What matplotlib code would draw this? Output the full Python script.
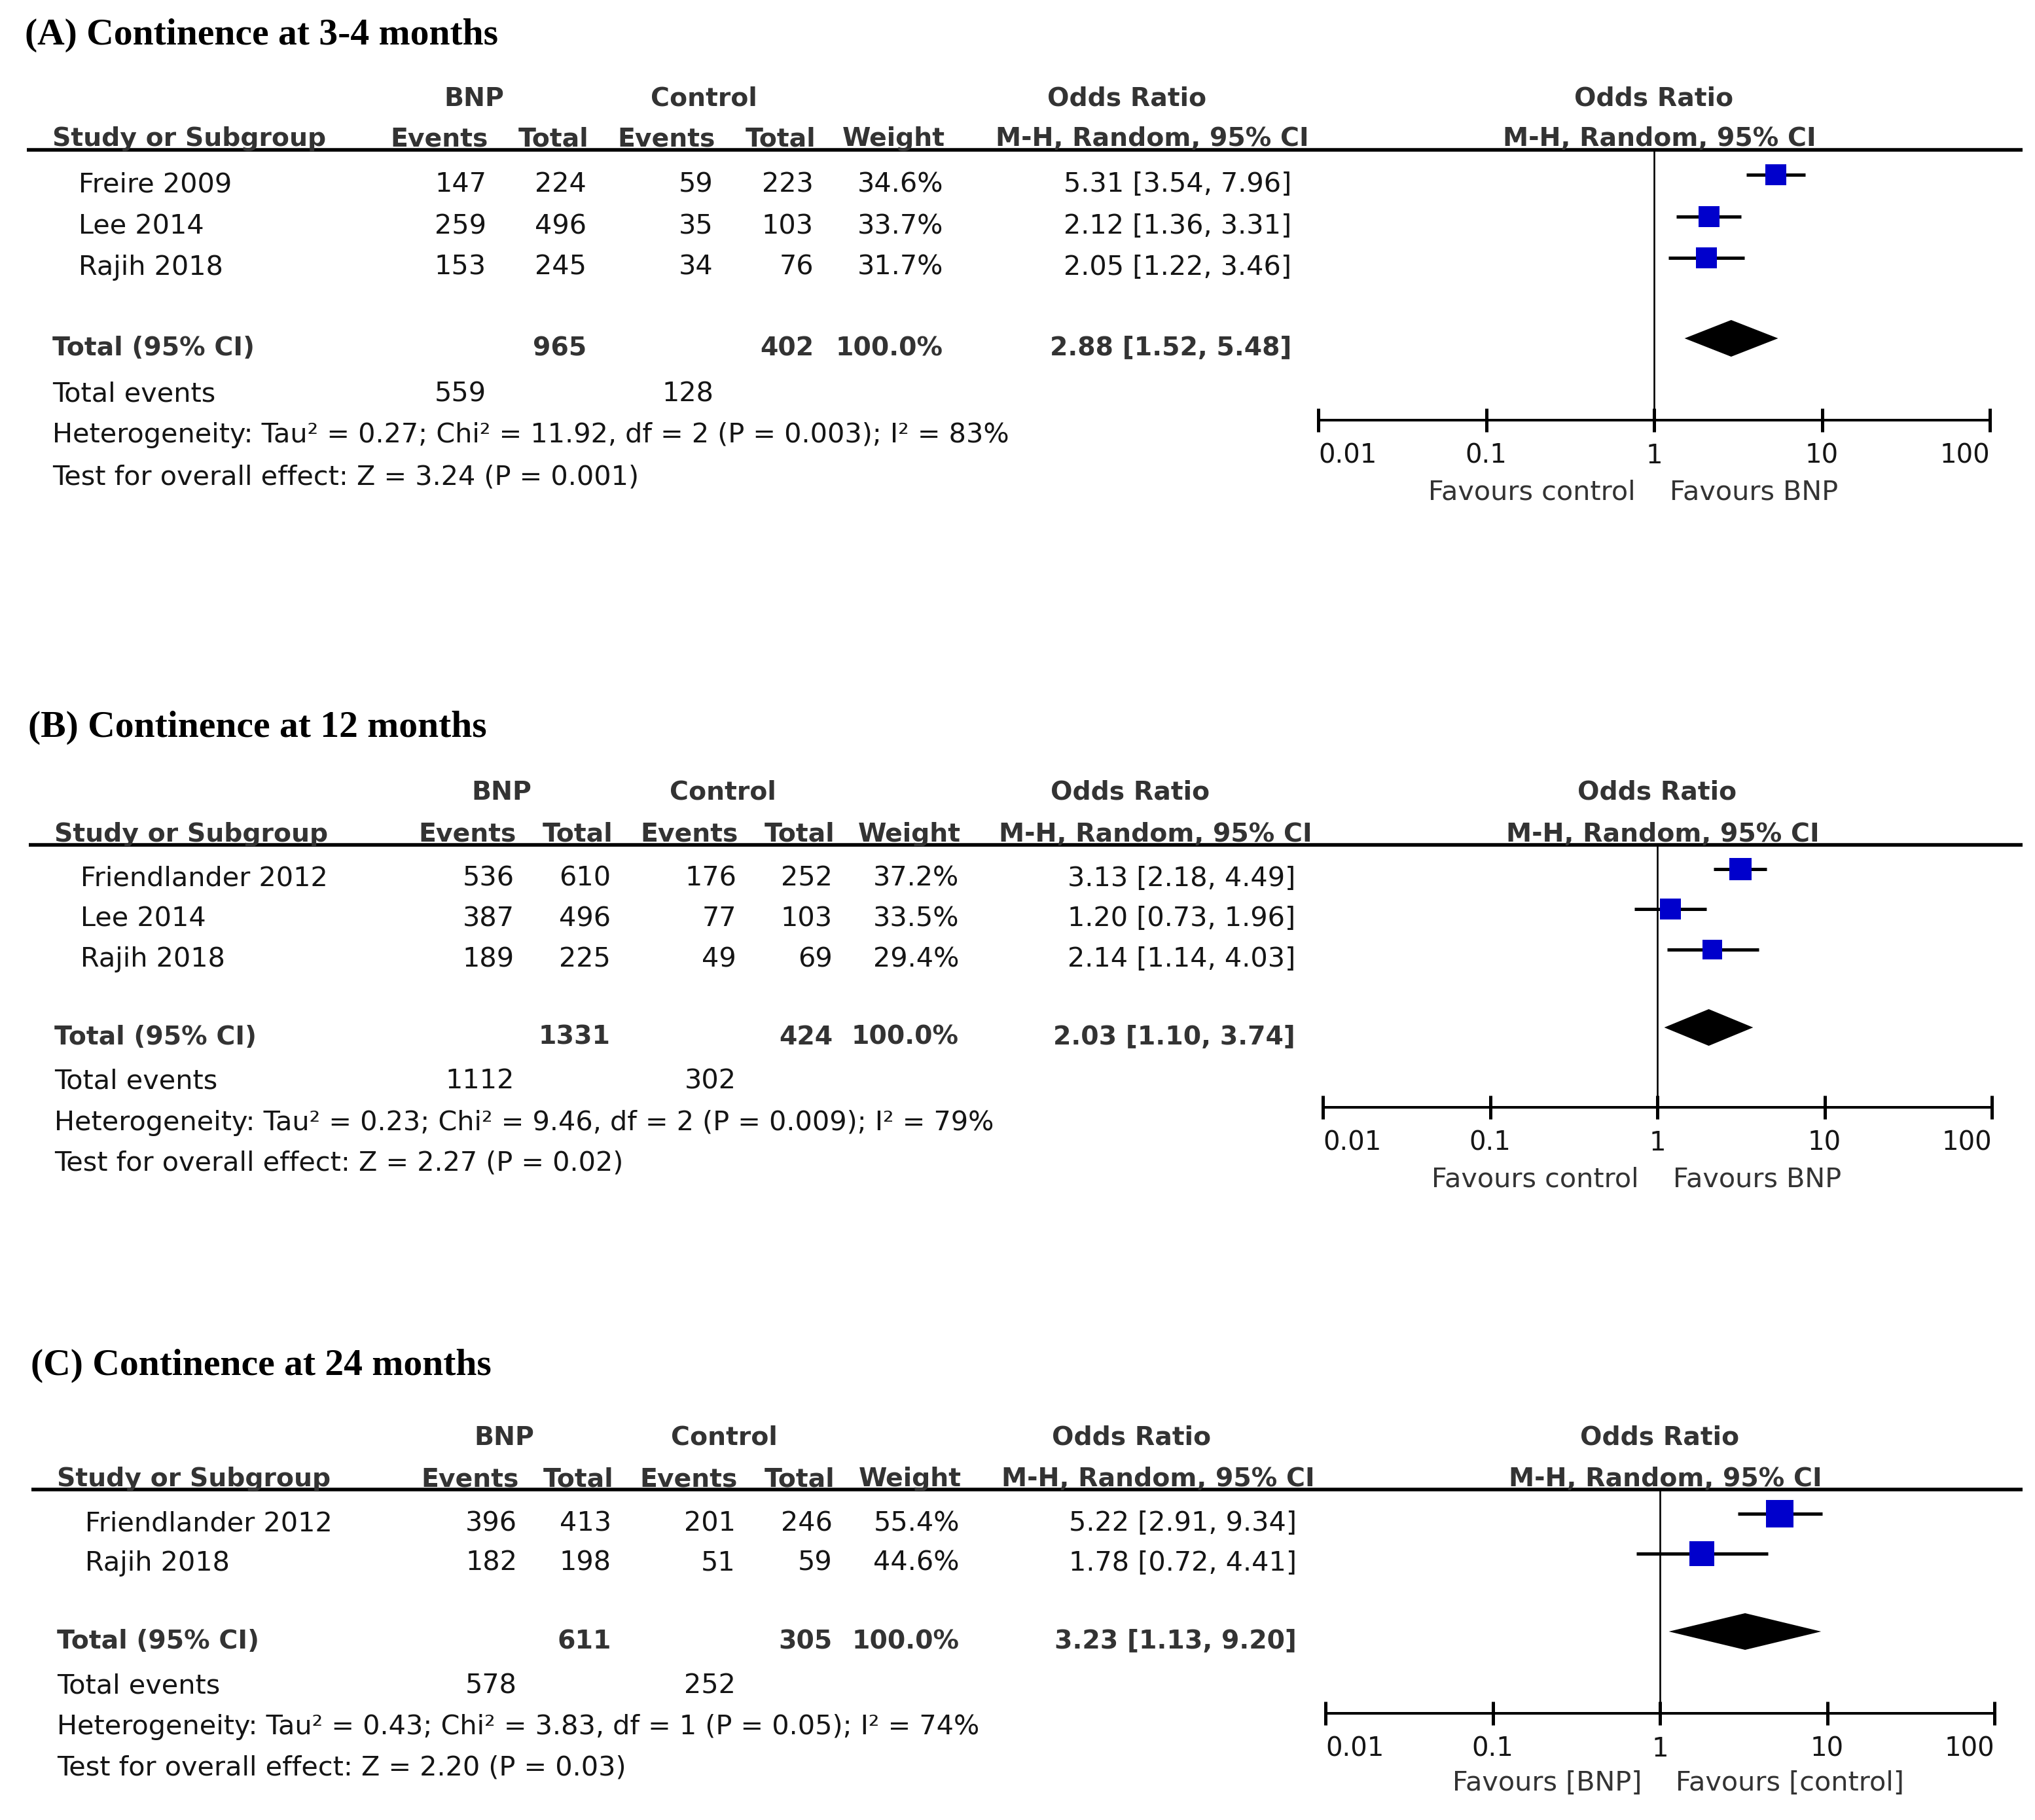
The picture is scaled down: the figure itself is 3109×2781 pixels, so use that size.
import matplotlib.pyplot as plt
from matplotlib.transforms import offset_copy

W, H, DPI = 3109, 2781, 100
PX = 72.0 / DPI  # points per pixel

# ---------------- data: (A) continence at 3-4 months ----------------
a_title = '(A) Continence at 3-4 months'
a_studies = ['Freire 2009', 'Lee 2014', 'Rajih 2018']
a_bnp_events = [147, 259, 153]
a_bnp_total = [224, 496, 245]
a_ctl_events = [59, 35, 34]
a_ctl_total = [223, 103, 76]
a_weight = [34.6, 33.7, 31.7]
a_or = [5.31, 2.12, 2.05]
a_lo = [3.54, 1.36, 1.22]
a_hi = [7.96, 3.31, 3.46]
a_total = [965, 402]            # BNP total, control total
a_total_weight = 100.0
a_total_events = [559, 128]
a_pooled = [2.88, 1.52, 5.48]
a_het = 'Heterogeneity: Tau² = 0.27; Chi² = 11.92, df = 2 (P = 0.003); I² = 83%'
a_test = 'Test for overall effect: Z = 3.24 (P = 0.001)'
a_favours = ['Favours control', 'Favours BNP']

# ---------------- data: (B) continence at 12 months ----------------
b_title = '(B) Continence at 12 months'
b_studies = ['Friendlander 2012', 'Lee 2014', 'Rajih 2018']
b_bnp_events = [536, 387, 189]
b_bnp_total = [610, 496, 225]
b_ctl_events = [176, 77, 49]
b_ctl_total = [252, 103, 69]
b_weight = [37.2, 33.5, 29.4]
b_or = [3.13, 1.20, 2.14]
b_lo = [2.18, 0.73, 1.14]
b_hi = [4.49, 1.96, 4.03]
b_total = [1331, 424]
b_total_weight = 100.0
b_total_events = [1112, 302]
b_pooled = [2.03, 1.10, 3.74]
b_het = 'Heterogeneity: Tau² = 0.23; Chi² = 9.46, df = 2 (P = 0.009); I² = 79%'
b_test = 'Test for overall effect: Z = 2.27 (P = 0.02)'
b_favours = ['Favours control', 'Favours BNP']

# ---------------- data: (C) continence at 24 months ----------------
c_title = '(C) Continence at 24 months'
c_studies = ['Friendlander 2012', 'Rajih 2018']
c_bnp_events = [396, 182]
c_bnp_total = [413, 198]
c_ctl_events = [201, 51]
c_ctl_total = [246, 59]
c_weight = [55.4, 44.6]
c_or = [5.22, 1.78]
c_lo = [2.91, 0.72]
c_hi = [9.34, 4.41]
c_total = [611, 305]
c_total_weight = 100.0
c_total_events = [578, 252]
c_pooled = [3.23, 1.13, 9.20]
c_het = 'Heterogeneity: Tau² = 0.43; Chi² = 3.83, df = 1 (P = 0.05); I² = 74%'
c_test = 'Test for overall effect: Z = 2.20 (P = 0.03)'
c_favours = ['Favours [BNP]', 'Favours [control]']

or_ticks = [0.01, 0.1, 1, 10, 100]
or_tick_labels = ['0.01', '0.1', '1', '10', '100']

# ---------------- layout (pixels) ----------------
SANS = 'DejaVu Sans'
SERIF = 'Liberation Serif'
FS = 29.8      # regular text
FSB = 28.4     # bold header text
HDR = '#333333'
TXT = '#151515'
BLUE = '#0000CC'
BASE = 15  # cap centre -> baseline offset

layouts = [
    dict(tx=38, study=80, name=120, be=743, bt=896, ce=1090, ct=1243, w=1441,
         orr=1973, bnp_c=724, ctl_c=1075, or_c=1722, mh_c=1760,
         ax_l=2014, ax_r=3040, line_l=41, line_r=3090,
         title=50, h1=147, h2=208, line=229, rows=[278, 342, 405],
         total=528, events=598, het=661, test=725, axis=642, fav=749),
    dict(tx=43, study=83, name=123, be=786, bt=933, ce=1125, ct=1272, w=1465,
         orr=1979, bnp_c=766, ctl_c=1104, or_c=1727, mh_c=1765,
         ax_l=2021, ax_r=3043, line_l=44, line_r=3090,
         title=1108, h1=1207, h2=1271, line=1291, rows=[1339, 1400, 1462],
         total=1581, events=1648, het=1712, test=1773, axis=1692, fav=1799),
    dict(tx=47, study=87, name=130, be=790, bt=934, ce=1124, ct=1272, w=1466,
         orr=1981, bnp_c=770, ctl_c=1106, or_c=1729, mh_c=1769,
         ax_l=2025, ax_r=3047, line_l=48, line_r=3090,
         title=2083, h1=2193, h2=2256, line=2276, rows=[2324, 2385],
         total=2504, events=2572, het=2635, test=2697, axis=2618, fav=2721),
]

panels = [
    dict(title=a_title, studies=a_studies, be=a_bnp_events, bt=a_bnp_total,
         ce=a_ctl_events, ct=a_ctl_total, w=a_weight, est=a_or, lo=a_lo, hi=a_hi,
         total=a_total, tw=a_total_weight, tev=a_total_events, pooled=a_pooled,
         het=a_het, test=a_test, fav=a_favours),
    dict(title=b_title, studies=b_studies, be=b_bnp_events, bt=b_bnp_total,
         ce=b_ctl_events, ct=b_ctl_total, w=b_weight, est=b_or, lo=b_lo, hi=b_hi,
         total=b_total, tw=b_total_weight, tev=b_total_events, pooled=b_pooled,
         het=b_het, test=b_test, fav=b_favours),
    dict(title=c_title, studies=c_studies, be=c_bnp_events, bt=c_bnp_total,
         ce=c_ctl_events, ct=c_ctl_total, w=c_weight, est=c_or, lo=c_lo, hi=c_hi,
         total=c_total, tw=c_total_weight, tev=c_total_events, pooled=c_pooled,
         het=c_het, test=c_test, fav=c_favours),
]

fig = plt.figure(figsize=(W / DPI, H / DPI), dpi=DPI)
cv = fig.add_axes([0, 0, 1, 1])
cv.set_xlim(0, W)
cv.set_ylim(H, 0)
cv.axis('off')


def txt(x, y, s, ha='left', bold=False, color=TXT):
    cv.text(x, y + BASE, s, ha=ha, va='baseline', fontsize=FSB if bold else FS,
            family=SANS, fontweight='bold' if bold else 'normal', color=color)


def ci_str(e, l, h):
    return f'{e:.2f} [{l:.2f}, {h:.2f}]'


def draw_panel(p, L):
    # title
    cv.text(L['tx'], L['title'] + 18, p['title'], ha='left', va='baseline',
            fontsize=41.5, family=SERIF, fontweight='bold', color='black')

    # column headers
    txt(L['bnp_c'], L['h1'], 'BNP', ha='center', bold=True, color=HDR)
    txt(L['ctl_c'], L['h1'], 'Control', ha='center', bold=True, color=HDR)
    txt(L['or_c'], L['h1'], 'Odds Ratio', ha='center', bold=True, color=HDR)
    txt(L['study'], L['h2'], 'Study or Subgroup', bold=True, color=HDR)
    txt(L['be'] + 3, L['h2'], 'Events', ha='right', bold=True, color=HDR)
    txt(L['bt'] + 3, L['h2'], 'Total', ha='right', bold=True, color=HDR)
    txt(L['ce'] + 3, L['h2'], 'Events', ha='right', bold=True, color=HDR)
    txt(L['ct'] + 3, L['h2'], 'Total', ha='right', bold=True, color=HDR)
    txt(L['w'] + 3, L['h2'], 'Weight', ha='right', bold=True, color=HDR)
    txt(L['mh_c'], L['h2'], 'M-H, Random, 95% CI', ha='center', bold=True, color=HDR)
    cv.plot([L['line_l'], L['line_r']], [L['line'], L['line']], color='black',
            lw=5.5 * PX, solid_capstyle='butt')

    # study rows
    for i, y in enumerate(L['rows']):
        txt(L['name'], y, p['studies'][i])
        txt(L['be'], y, str(p['be'][i]), ha='right')
        txt(L['bt'], y, str(p['bt'][i]), ha='right')
        txt(L['ce'], y, str(p['ce'][i]), ha='right')
        txt(L['ct'], y, str(p['ct'][i]), ha='right')
        txt(L['w'], y, f"{p['w'][i]:.1f}%", ha='right')
        txt(L['orr'], y, ci_str(p['est'][i], p['lo'][i], p['hi'][i]), ha='right')

    # totals
    y = L['total']
    txt(L['study'], y, 'Total (95% CI)', bold=True, color=HDR)
    txt(L['bt'], y, str(p['total'][0]), ha='right', bold=True, color=HDR)
    txt(L['ct'], y, str(p['total'][1]), ha='right', bold=True, color=HDR)
    txt(L['w'], y, f"{p['tw']:.1f}%", ha='right', bold=True, color=HDR)
    txt(L['orr'], y, ci_str(*p['pooled']), ha='right', bold=True, color=HDR)
    txt(L['study'], L['events'], 'Total events')
    txt(L['be'], L['events'], str(p['tev'][0]), ha='right')
    txt(L['ce'], L['events'], str(p['tev'][1]), ha='right')
    txt(L['study'], L['het'], p['het'])
    txt(L['study'], L['test'], p['test'])

    # forest plot
    ax = fig.add_axes([L['ax_l'] / W, 1 - L['axis'] / H,
                       (L['ax_r'] - L['ax_l']) / W, (L['axis'] - L['line']) / H])
    ax.set_xscale('log')
    ax.set_xlim(or_ticks[0], or_ticks[-1])
    ax.set_ylim(L['axis'], L['line'])
    ax.patch.set_visible(False)
    for s in ['top', 'left', 'right']:
        ax.spines[s].set_visible(False)
    ax.spines['bottom'].set_linewidth(4 * PX)
    ax.set_yticks([])
    ax.set_xticks(or_ticks)
    ax.set_xticklabels(or_tick_labels)
    ax.minorticks_off()
    ax.tick_params(axis='x', direction='inout', length=36 * PX, width=5 * PX,
                   pad=12, labelsize=29, labelcolor=TXT)
    for lab in ax.get_xticklabels():
        lab.set_family(SANS)
    labs = ax.get_xticklabels()
    labs[0].set_ha('left')
    labs[-1].set_ha('right')

    ax.axvline(1, color='black', lw=2.6 * PX, zorder=1)

    off = -11
    for i, y in enumerate(L['rows']):
        ax.hlines(y + off, p['lo'][i], p['hi'][i], color='black', lw=5 * PX, zorder=2)
        side = 5.6 * p['w'][i] ** 0.5
        ax.plot(p['est'][i], y + off, 's', ms=side * PX, color=BLUE, mew=0,
                zorder=3, clip_on=False)
    e, l, h = p['pooled']
    yd = L['total'] + off
    ax.fill([l, e, h, e], [yd, yd - 28, yd, yd + 28], color='black', lw=0, zorder=3)

    # headers over the forest plot, centred on the line of no effect
    ax.text(1, L['h1'] + BASE, 'Odds Ratio', ha='center', va='baseline',
            fontsize=FSB, family=SANS, fontweight='bold', color=HDR, clip_on=False)
    ax.text(1, L['h2'] + BASE, 'M-H, Random, 95% CI', ha='center', va='baseline',
            fontsize=FSB, family=SANS, fontweight='bold', color=HDR, clip_on=False,
            transform=offset_copy(ax.transData, fig=fig, x=8, y=0, units='dots'))
    ax.text(1, L['fav'] + BASE, p['fav'][0], ha='right', va='baseline',
            fontsize=FS, family=SANS, color=HDR, clip_on=False,
            transform=offset_copy(ax.transData, fig=fig, x=-28, y=0, units='dots'))
    ax.text(1, L['fav'] + BASE, p['fav'][1], ha='left', va='baseline',
            fontsize=FS, family=SANS, color=HDR, clip_on=False,
            transform=offset_copy(ax.transData, fig=fig, x=24, y=0, units='dots'))


for p, L in zip(panels, layouts):
    draw_panel(p, L)

fig.savefig('out.png', dpi=DPI, facecolor='white')
